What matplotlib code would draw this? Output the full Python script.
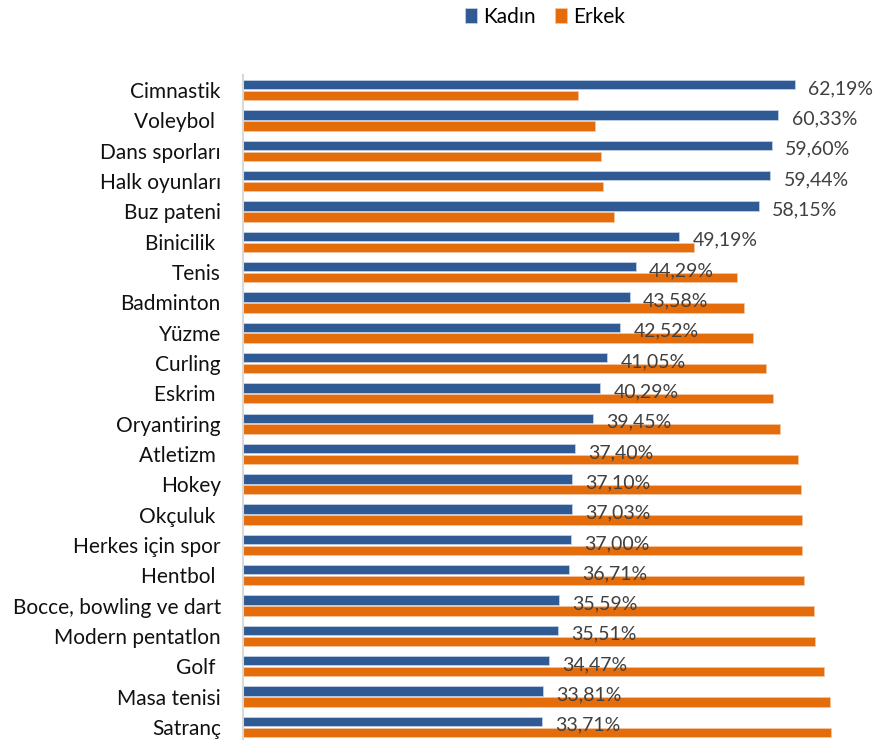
import matplotlib
matplotlib.use("Agg")
import matplotlib.pyplot as plt
import numpy as np

plt.rcParams['font.family'] = ['Lato', 'DejaVu Sans']

sports = ['Cimnastik', 'Voleybol ', 'Dans sporları', 'Halk oyunları', 'Buz pateni',
          'Binicilik ', 'Tenis', 'Badminton', 'Yüzme', 'Curling', 'Eskrim ',
          'Oryantiring', 'Atletizm ', 'Hokey', 'Okçuluk ', 'Herkes için spor',
          'Hentbol ', 'Bocce, bowling ve dart', 'Modern pentatlon', 'Golf ',
          'Masa tenisi', 'Satranç']
kadin = [62.19, 60.33, 59.60, 59.44, 58.15, 49.19, 44.29, 43.58, 42.52, 41.05, 40.29,
         39.45, 37.40, 37.10, 37.03, 37.00, 36.71, 35.59, 35.51, 34.47, 33.81, 33.71]
erkek = [37.81, 39.67, 40.40, 40.56, 41.85, 50.81, 55.71, 56.42, 57.48, 58.95, 59.71,
         60.55, 62.60, 62.90, 62.97, 63.00, 63.29, 64.41, 64.49, 65.53, 66.19, 66.29]

blue = '#2f5a94'
orange = '#e46c0a'

fig = plt.figure(figsize=(8.75, 7.4), dpi=100)
ax = fig.add_axes([243 / 875, -2 / 740, (864 - 243) / 875, (742 - 75) / 740])

y = np.arange(len(sports))
h = 0.31
off = 0.18
ax.barh(y - off, kadin, height=h, color=blue, edgecolor='#c9d6ea', linewidth=0.5, label='Kadın')
ax.barh(y + off, erkek, height=h, color=orange, edgecolor='#f4c8a4', linewidth=0.5, label='Erkek')

# value labels only for Kadın, just right of the blue bar
for yi, v in zip(y, kadin):
    ax.text(v + 1.5, yi - 0.05, f'{v:.2f}'.replace('.', ',') + '%', va='center', ha='left',
            fontsize=14, color='#404040', clip_on=False)

ax.set_xlim(0, 70)
ax.set_ylim(len(sports) - 0.5, -0.5)
ax.set_yticks(y)
ax.set_yticklabels(sports, fontsize=15, color='#111111')
ax.tick_params(axis='y', length=0, pad=16)
ax.set_xticks([])
for s in ['top', 'right', 'bottom']:
    ax.spines[s].set_visible(False)
ax.spines['left'].set_color('#d9d9d9')
ax.spines['left'].set_linewidth(1.5)

fig.legend(loc='center', bbox_to_anchor=(545 / 875, 1 - 17 / 740), ncol=2, frameon=False,
           fontsize=15, handlelength=0.6, handleheight=0.75, handletextpad=0.3,
           columnspacing=0.9)

fig.savefig('out.png', dpi=100)
